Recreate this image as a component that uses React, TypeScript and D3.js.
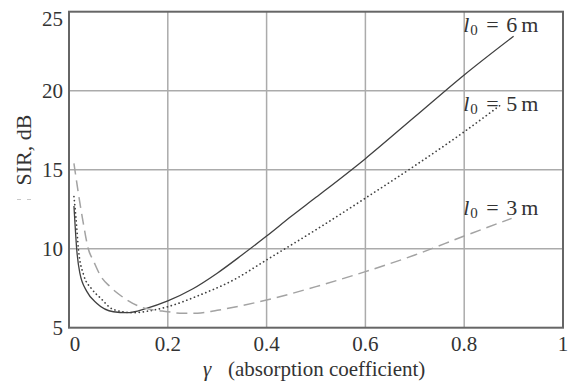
import React from "react";
import * as d3 from "d3";

const gammaL6 = [0.01, 0.0125, 0.0155, 0.022, 0.036, 0.056, 0.09, 0.117, 0.157, 0.2, 0.25, 0.3, 0.35, 0.4, 0.45, 0.5, 0.6, 0.7, 0.8, 0.9];
const sirL6 = [12.7, 11.4, 10.0, 8.45, 7.3, 6.55, 6.01, 5.95, 6.23, 6.7, 7.45, 8.45, 9.6, 10.8, 12.05, 13.25, 15.7, 18.35, 21.0, 23.45];

const gammaL5 = [0.01, 0.014, 0.019, 0.029, 0.046, 0.063, 0.09, 0.13, 0.16, 0.2, 0.265, 0.333, 0.4, 0.5, 0.6, 0.7, 0.8, 0.876];
const sirL5 = [13.3, 12.0, 10.0, 8.4, 7.45, 6.9, 6.15, 5.95, 6.05, 6.33, 7.07, 8.02, 9.29, 11.2, 13.2, 15.25, 17.4, 19.15];

const gammaL3 = [0.01, 0.019, 0.029, 0.039, 0.05, 0.063, 0.083, 0.103, 0.144, 0.2, 0.231, 0.26, 0.3, 0.35, 0.4, 0.5, 0.6, 0.7, 0.8, 0.896];
const sirL3 = [15.4, 13.5, 11.6, 10.0, 9.2, 8.33, 7.6, 7.07, 6.33, 6.01, 5.91, 5.92, 6.1, 6.4, 6.75, 7.6, 8.55, 9.6, 10.8, 11.92];

const seriesNames = ["6", "5", "3"];
const labelGamma = [0.8, 0.8, 0.8];
const labelSir = [23.7, 18.7, 12.15];

const xTicks = [0, 0.2, 0.4, 0.6, 0.8, 1];
const xTickLabels = ["0", "0.2", "0.4", "0.6", "0.8", "1"];
const yTicks = [5, 10, 15, 20, 25];
const yTickLabels = ["5", "10", "15", "20", "25"];

const W = 568;
const H = 382;
const left = 69, right = 563, top = 11.7, bottom = 327.7;

export default function App() {
  const x = d3.scaleLinear().domain([0, 1]).range([left, right]);
  const y = d3.scaleLinear().domain([5, 25]).range([bottom, top]);

  const mk = (gs: number[], vs: number[]) =>
    d3
      .line<number>()
      .x((_, i) => x(gs[i]))
      .y((v) => y(v))
      .curve(d3.curveMonotoneX)(vs) || "";

  const styles = [
    { stroke: "#404040", width: 1.3, dash: "none" },
    { stroke: "#404040", width: 1.7, dash: "0.1 4" },
    { stroke: "#a3a3a3", width: 1.5, dash: "11 6" },
  ];
  const paths = [mk(gammaL6, sirL6), mk(gammaL5, sirL5), mk(gammaL3, sirL3)];

  const font = "'Liberation Serif', 'Times New Roman', serif";

  return (
    <svg
      width={W}
      height={H}
      style={{ position: "absolute", left: 0, top: 0, background: "#fff" }}
      fontFamily={font}
    >
      <rect x={0} y={0} width={W} height={H} fill="#fff" />
      {xTicks.slice(1, -1).map((t) => (
        <line key={"gx" + t} x1={x(t)} x2={x(t)} y1={top} y2={bottom} stroke="#ababab" strokeWidth={1.5} />
      ))}
      {yTicks.slice(1, -1).map((t) => (
        <line key={"gy" + t} x1={left} x2={right} y1={y(t)} y2={y(t)} stroke="#ababab" strokeWidth={1.5} />
      ))}
      {paths.map((p, i) => (
        <path
          key={"p" + i}
          d={p}
          fill="none"
          stroke={styles[i].stroke}
          strokeWidth={styles[i].width}
          strokeDasharray={styles[i].dash}
          strokeLinecap={i === 1 ? "round" : "butt"}
        />
      ))}
      <rect x={left} y={top} width={right - left} height={bottom - top} fill="none" stroke="#666" strokeWidth={2} />
      {yTicks.map((t, i) => (
        <text
          key={"yl" + t}
          x={63}
          y={Math.max(y(t), 19)}
          dy="0.35em"
          textAnchor="end"
          fontSize={21}
          fill="#333"
        >
          {yTickLabels[i]}
        </text>
      ))}
      {xTicks.map((t, i) => (
        <text
          key={"xl" + t}
          x={Math.max(x(t), 75)}
          y={351}
          textAnchor="middle"
          fontSize={21}
          fill="#333"
        >
          {xTickLabels[i]}
        </text>
      ))}
      <text x={203} y={376} fontSize={21} fill="#333">
        <tspan fontStyle="italic">γ</tspan>
        <tspan x={228}>(absorption coefficient)</tspan>
      </text>
      <text
        transform="translate(31,150) rotate(-90)"
        textAnchor="middle"
        fontSize={22}
        fill="#333"
      >
        SIR, dB
      </text>
      <line x1={17} x2={33} y1={199.5} y2={199.5} stroke="#c8c8c8" strokeWidth={1} strokeDasharray="4 6" />
      {seriesNames.map((n, i) => {
        const lx = x(labelGamma[i]) - 1;
        const ly = y(labelSir[i]);
        return (
          <text key={"lab" + i} y={ly} fontSize={22} fill="#333">
            <tspan x={lx} fontStyle="italic">l</tspan>
            <tspan x={lx + 7} fontSize={15} dy={3}>0</tspan>
            <tspan x={lx + 23} dy={-3}>=</tspan>
            <tspan x={lx + 43}>{n}</tspan>
            <tspan x={lx + 58}>m</tspan>
          </text>
        );
      })}
    </svg>
  );
}
